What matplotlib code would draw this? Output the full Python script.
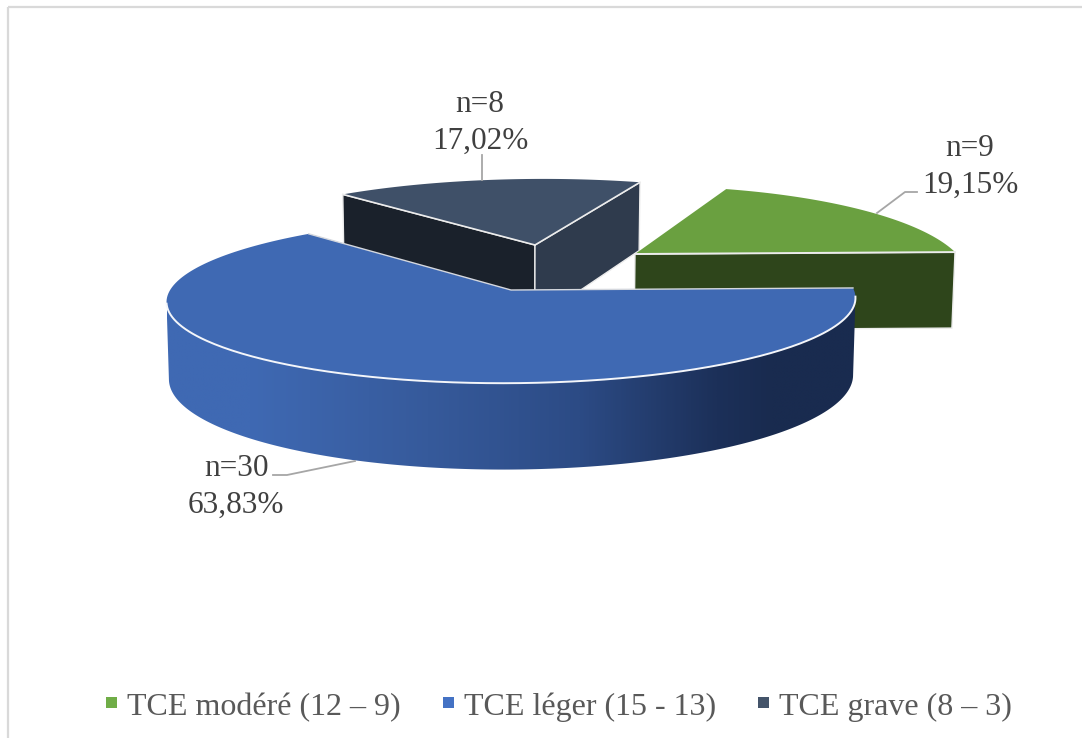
import numpy as np
import matplotlib
matplotlib.use("Agg")
import matplotlib.pyplot as plt
from matplotlib.patches import Polygon, Rectangle
from matplotlib.colors import LinearSegmentedColormap

# Severity groups, clockwise from the east edge of the disk
categories = ["TCE léger (15 - 13)", "TCE grave (8 – 3)", "TCE modéré (12 – 9)"]
legend_order = [2, 0, 1]
counts = [30, 8, 9]
percents = [63.83, 17.02, 19.15]
top_colors = ["#3F69B3", "#3F5068", "#6AA040"]
legend_colors = ["#4472C4", "#44546A", "#70AD47"]

W, H = 1082, 738
DEPTH = 76
ROLL = 0.006
VANISH_X = 511
BOTTOM_SCALE = 0.993

fig = plt.figure(figsize=(W / 100, H / 100), dpi=100)
ax = fig.add_axes([0, 0, 1, 1])
plt.rcParams["font.family"] = ["Liberation Serif", "DejaVu Sans"]

# Frame of the chart area
for xs, ys in [([8, 8], [7, H]), ([8, W], [7, 7])]:
    ax.plot(xs, ys, color="#D9D9D9", lw=1.6, solid_capstyle="butt", zorder=0)


def project_uv(u, v, disk, z=0.0):
    """Perspective projection of a disk point in unit disk coordinates."""
    cx, cy, b, a, k = disk
    f = 1.0 / (1.0 + k * v)
    x = cx + b * u * f
    y = cy - a * v * f - ROLL * b * u * f + z * DEPTH * f
    x = VANISH_X + (x - VANISH_X) * (1 - (1 - BOTTOM_SCALE) * z)
    return x, y


def project(theta, disk, z=0.0):
    # theta runs clockwise in degrees from the east edge
    t = np.radians(theta)
    return project_uv(np.cos(t), -np.sin(t), disk, z)


def top_outline(start, end, disk):
    th = np.linspace(start, end, 160)
    x, y = project(th, disk)
    apex = project_uv(0.0, 0.0, disk)
    return np.vstack([[apex], np.column_stack([x, y])])


def inner_wall(theta, disk):
    a0 = project_uv(0.0, 0.0, disk)
    a1 = project_uv(0.0, 0.0, disk, 1.0)
    e0 = project(theta, disk)
    e1 = project(theta, disk, 1.0)
    return np.array([a0, e0, e1, a1])


# Slice boundaries taken from the percentages
edges = np.concatenate([[0.0], np.cumsum(percents) * 3.6])
blue_span = (edges[0], edges[1])
navy_span = (edges[1], edges[2])
green_span = (edges[2], edges[3])

blue_disk = (511, 290, 342, 82, 0.12)
navy_disk = (535, 245, 325, 74, 0.12)
green_disk = (635, 254, 320, 87, 0.28)

EDGE = "#ECECEC"

# Far slices first so the large slice overlaps them
ax.add_patch(Polygon(inner_wall(navy_span[0], navy_disk), fc="#1A212B", ec=EDGE, lw=1.0, zorder=2))
ax.add_patch(Polygon(inner_wall(navy_span[1], navy_disk), fc="#2F3B4D", ec=EDGE, lw=1.0, zorder=2))
ax.add_patch(Polygon(top_outline(*navy_span, navy_disk), fc=top_colors[1], ec="none", zorder=3))
navy_apex = project_uv(0.0, 0.0, navy_disk)
for th in navy_span:
    ex, ey = project(th, navy_disk)
    ax.plot([navy_apex[0], ex], [navy_apex[1], ey], color=EDGE, lw=1.2, zorder=3.1)

ax.add_patch(Polygon(inner_wall(green_span[1], green_disk), fc="#2E451B", ec=EDGE, lw=1.0, zorder=4))
ax.add_patch(Polygon(top_outline(*green_span, green_disk), fc=top_colors[2], ec="none", zorder=5))
green_apex = project_uv(0.0, 0.0, green_disk)
ex, ey = project(green_span[1], green_disk)
ax.plot([green_apex[0], ex], [green_apex[1], ey], color=EDGE, lw=1.4, zorder=5.1)

# Curved wall of the large slice, shaded from left to right
shade = LinearSegmentedColormap.from_list(
    "wall",
    [(0.0, "#3F69B3"), (0.12, "#3F69B3"), (0.38, "#365A9B"), (0.6, "#2C4B85"),
     (0.8, "#1C3059"), (0.88, "#192B4F"), (1.0, "#192B4F")],
)
wall_steps = np.linspace(7, 173, 300)
x_top, y_top = project(wall_steps, blue_disk)
x_bot, y_bot = project(wall_steps, blue_disk, 1.0)
wall_outline = np.vstack([np.column_stack([x_top, y_top]), np.column_stack([x_bot, y_bot])[::-1]])
wall_patch = Polygon(wall_outline, fc="none", ec="none", transform=ax.transData)
ax.add_patch(wall_patch)
gradient = ax.imshow(np.linspace(0, 1, 512)[None, :], cmap=shade, aspect="auto",
                     extent=(167, 855, 480, 280), zorder=6, interpolation="bilinear")
gradient.set_clip_path(wall_patch)

ax.add_patch(Polygon(top_outline(*blue_span, blue_disk), fc=top_colors[0], ec="none", zorder=7))
ax.plot(*project(np.linspace(6, 172, 200), blue_disk), color="#F4F6FA", lw=1.4, zorder=7.1)
back = top_outline(*blue_span, blue_disk)
ax.plot([back[-1, 0], back[0, 0], back[1, 0]], [back[-1, 1], back[0, 1], back[1, 1]],
        color="#D5D8DE", lw=1.0, zorder=7.1)

# Leader lines and data labels
leaders = [
    ([355, 287, 273], [461, 475, 475]),
    ([482, 482], [155, 180]),
    ([877, 905, 917], [213, 192, 192]),
]
label_xy = [(236, 502), (480, 138), (970, 182)]
for (lx, ly), n, p, xy in zip(leaders, counts, percents, label_xy):
    ax.plot(lx, ly, color="#A6A6A6", lw=1.3, zorder=8)
    ax.text(xy[0], xy[1] - 37, f"n={n}", ha="center", va="center_baseline", fontsize=22.5, color="#404040", zorder=9)
    ax.text(xy[0], xy[1], f"{p:.2f}%".replace(".", ","), ha="center", va="center_baseline",
            fontsize=22.5, color="#404040", zorder=9)

# Legend along the bottom
legend_x = [106, 443, 758]
for idx, lx in zip(legend_order, legend_x):
    ax.add_patch(Rectangle((lx, 697), 11, 11, fc=legend_colors[idx], ec="none", zorder=9))
    ax.text(lx + 21, 704, categories[idx], ha="left", va="center_baseline", fontsize=23, color="#595959", zorder=9)

ax.set_xlim(0, W)
ax.set_ylim(H, 0)
ax.axis("off")
fig.savefig("out.png", dpi=100, facecolor="white")
